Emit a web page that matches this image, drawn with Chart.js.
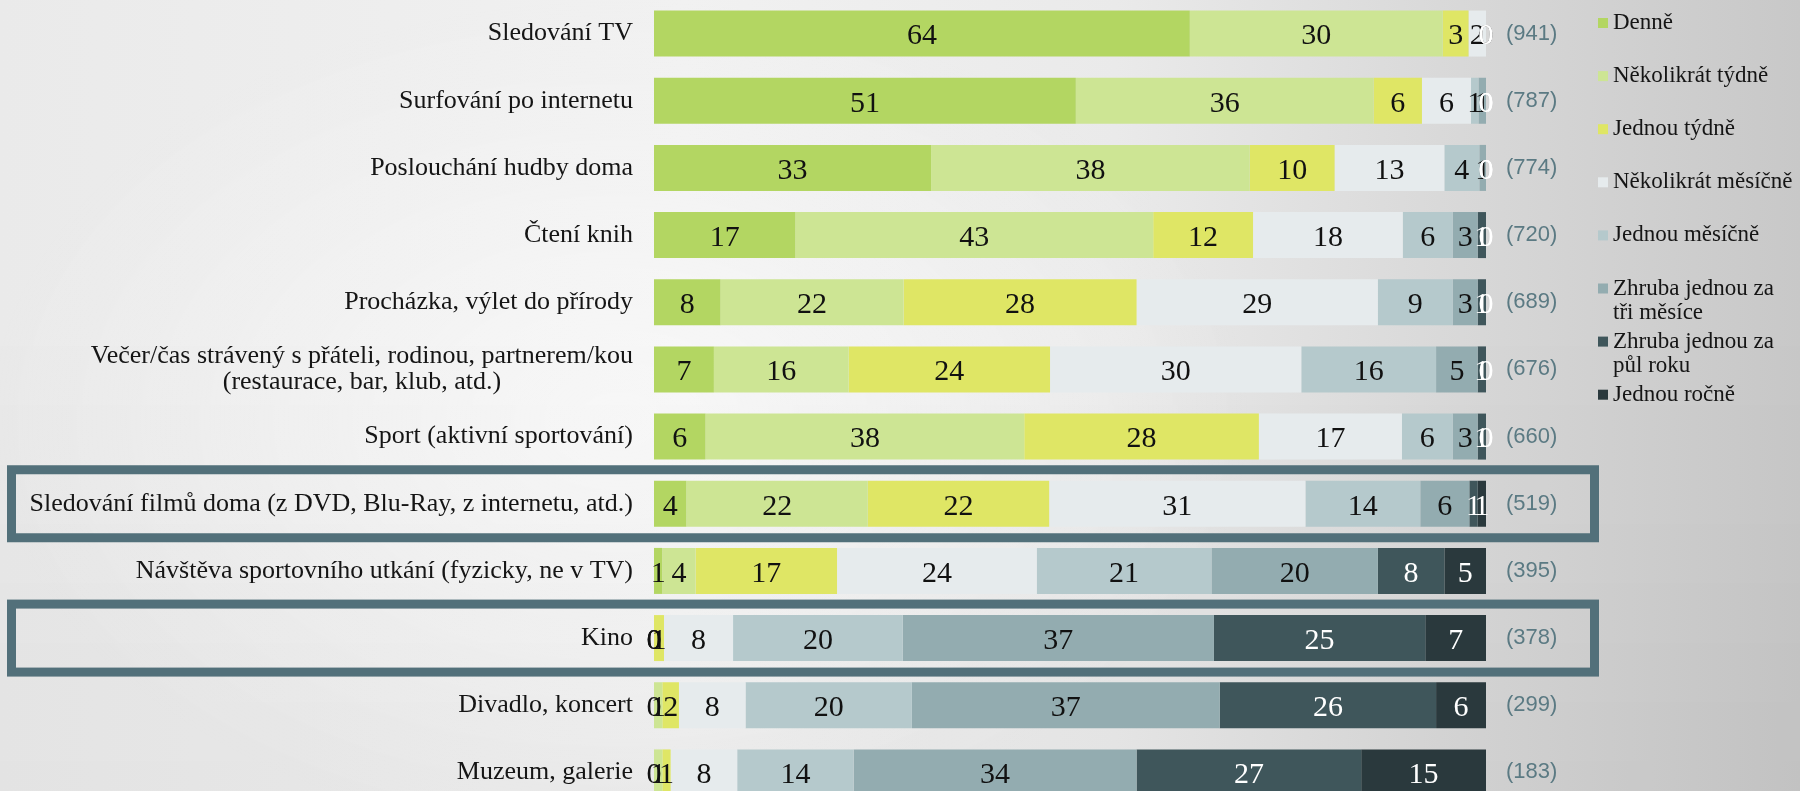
<!DOCTYPE html>
<html lang="cs">
<head>
<meta charset="utf-8">
<title>Frekvence volnočasových aktivit</title>
<script src="https://cdn.jsdelivr.net/npm/chart.js@4.4.1/dist/chart.umd.min.js"></script>
<style>
  html, body { margin: 0; padding: 0; width: 1800px; height: 791px; overflow: hidden; }
  body {
    background:
      radial-gradient(ellipse 900px 600px at 620px 420px, rgba(255,255,255,0.5), rgba(255,255,255,0) 70%),
      linear-gradient(180deg, rgba(0,0,0,0) 40%, rgba(0,0,0,0.03) 100%),
      linear-gradient(90deg, #eaeaea 0%, #f1f1f1 38%, #eaeaea 62%, #d9d9d9 80%, #c8c8c8 100%);
  }
  #graf { position: absolute; left: 0; top: 0; }
</style>
</head>
<body>
<canvas id="graf" width="1800" height="806"></canvas>
<script>
var aktivity = [
  'Sledování TV',
  'Surfování po internetu',
  'Poslouchání hudby doma',
  'Čtení knih',
  'Procházka, výlet do přírody',
  ['Večer/čas strávený s přáteli, rodinou, partnerem/kou', '(restaurace, bar, klub, atd.)'],
  'Sport (aktivní sportování)',
  'Sledování filmů doma (z DVD, Blu-Ray, z internetu, atd.)',
  'Návštěva sportovního utkání (fyzicky, ne v TV)',
  'Kino',
  'Divadlo, koncert',
  'Muzeum, galerie'
];
var respondenti = [941, 787, 774, 720, 689, 676, 660, 519, 395, 378, 299, 183];

var frekvence = [
  'Denně',
  'Několikrát týdně',
  'Jednou týdně',
  'Několikrát měsíčně',
  'Jednou měsíčně',
  'Zhruba jednou za\ntři měsíce',
  'Zhruba jednou za\npůl roku',
  'Jednou ročně'
];

// podíly v % (pořadí podle aktivit)
var denne             = [64.4, 50.7, 33.3, 17, 8, 7.2,  6.2,  3.9,  1, 0,    0,  0];
var nekolikratTydne   = [30.4, 35.8, 38.3, 43, 22, 16.2, 38.3, 21.8, 4, 0,    1,  1];
var jednouTydne       = [3.1,  5.8,  10.2, 12, 28, 24.2, 28.2, 21.8, 17, 1.2, 2,  1];
var nekolikratMesicne = [2.1,  5.9,  13.2, 18, 29, 30.2, 17.2, 30.8, 24, 8.3, 8,  8];
var jednouMesicne     = [0,    0.9,  4.2,  6,  9,  16.2, 6.1,  13.8, 21, 20.4, 20, 14];
var triMesice         = [0,    0.9,  0.8,  3,  3,  5,    3,    5.9,  20, 37.4, 37, 34];
var pulRoku           = [0,    0,    0,    1,  1,  1,    1,    1,    8,  25.4, 26, 27];
var jednouRocne       = [0,    0,    0,    0,  0,  0,    0,    1,    5,  7.3,  6,  15];

var hodnoty = [denne, nekolikratTydne, jednouTydne, nekolikratMesicne, jednouMesicne, triMesice, pulRoku, jednouRocne];
var barvy = ['#b3d662', '#cde594', '#dfe665', '#e6ebed', '#b5c9cc', '#93acb0', '#3f565b', '#2a393d'];
var barvyPopisku = ['#111', '#111', '#111', '#111', '#111', '#111', '#fff', '#fff'];

var zvyraznit = [7, 9];

var PISMO = '"Liberation Serif", "Times New Roman", serif';

// popisky hodnot uprostřed segmentů
var popiskyHodnot = {
  id: 'popiskyHodnot',
  afterDatasetsDraw: function(chart) {
    var ctx = chart.ctx;
    ctx.save();
    ctx.font = '30px ' + PISMO;
    ctx.textAlign = 'center';
    ctx.textBaseline = 'middle';
    chart.data.datasets.forEach(function(ds, i) {
      chart.getDatasetMeta(i).data.forEach(function(bar, j) {
        ctx.fillStyle = barvyPopisku[i];
        ctx.fillText(String(Math.round(ds.data[j])), (bar.x + bar.base) / 2, bar.y + 3);
      });
    });
    ctx.restore();
  }
};

// názvy aktivit vlevo (víceřádkové zarovnané na střed bloku)
var nazvyAktivit = {
  id: 'nazvyAktivit',
  afterDraw: function(chart) {
    var ctx = chart.ctx;
    var osa = chart.scales.y;
    var prave = osa.right - 21;
    ctx.save();
    ctx.font = '26px ' + PISMO;
    ctx.fillStyle = '#151515';
    ctx.textBaseline = 'middle';
    aktivity.forEach(function(nazev, i) {
      var y = osa.getPixelForTick(i);
      if (Array.isArray(nazev)) {
        var sirka = Math.max.apply(null, nazev.map(function(r) { return ctx.measureText(r).width; }));
        ctx.textAlign = 'center';
        nazev.forEach(function(radek, k) {
          ctx.fillText(radek, prave - sirka / 2, y + (k - (nazev.length - 1) / 2) * 26);
        });
      } else {
        ctx.textAlign = 'right';
        ctx.fillText(nazev, prave, y);
      }
    });
    ctx.restore();
  }
};

// rámečky kolem vybraných řádků
var ramecky = {
  id: 'ramecky',
  afterDraw: function(chart) {
    var ctx = chart.ctx;
    var osa = chart.scales.y;
    ctx.save();
    ctx.strokeStyle = '#52707a';
    ctx.lineWidth = 9;
    zvyraznit.forEach(function(i) {
      var y = osa.getPixelForTick(i);
      ctx.strokeRect(11.5, y - 34, 1583, 68);
    });
    ctx.restore();
  }
};

// legenda vpravo
var legenda = {
  id: 'legenda',
  afterDraw: function(chart) {
    var ctx = chart.ctx;
    ctx.save();
    ctx.font = '23px ' + PISMO;
    ctx.textAlign = 'left';
    ctx.textBaseline = 'middle';
    frekvence.forEach(function(nazev, i) {
      var top = 18 + i * 53.1;
      ctx.fillStyle = barvy[i];
      ctx.fillRect(1598, top, 10, 10);
      ctx.fillStyle = '#151515';
      nazev.split('\n').forEach(function(radek, k) {
        ctx.fillText(radek, 1613, top + 5 + k * 24);
      });
    });
    ctx.restore();
  }
};

// svislé osy bez vnitřního odsazení nahoře a dole
function pevnaSirka(sirka) {
  return function(s) {
    s.width = sirka;
    s.paddingTop = 0;
    s.paddingBottom = 0;
  };
}

function vytvorGraf() {
  new Chart(document.getElementById('graf').getContext('2d'), {
    type: 'bar',
    data: {
      labels: aktivity,
      datasets: hodnoty.map(function(data, i) {
        return {
          label: frekvence[i].replace('\n', ' '),
          data: data,
          backgroundColor: barvy[i],
          borderWidth: 0,
          barPercentage: 0.685,
          categoryPercentage: 1
        };
      })
    },
    options: {
      indexAxis: 'y',
      responsive: false,
      animation: false,
      layout: { padding: { left: 0, right: 214, top: 0, bottom: 0 } },
      plugins: {
        legend: { display: false },
        tooltip: { enabled: false }
      },
      scales: {
        x: { stacked: true, min: 0, max: 100, display: false },
        y: {
          stacked: true,
          grid: { display: false, drawTicks: false },
          border: { display: false },
          ticks: { display: false },
          afterFit: pevnaSirka(654)
        },
        pocty: {
          type: 'category',
          axis: 'y',
          position: 'right',
          offset: true,
          labels: respondenti.map(function(n) { return '(' + n + ')'; }),
          grid: { display: false, drawTicks: false },
          border: { display: false },
          ticks: {
            padding: 20,
            color: '#5b7a83',
            font: { family: '"Liberation Sans Narrow", "Liberation Sans", Arial, sans-serif', size: 22 }
          },
          afterFit: pevnaSirka(100)
        }
      }
    },
    plugins: [popiskyHodnot, nazvyAktivit, ramecky, legenda]
  });
}

window.onload = vytvorGraf;
</script>
</body>
</html>
